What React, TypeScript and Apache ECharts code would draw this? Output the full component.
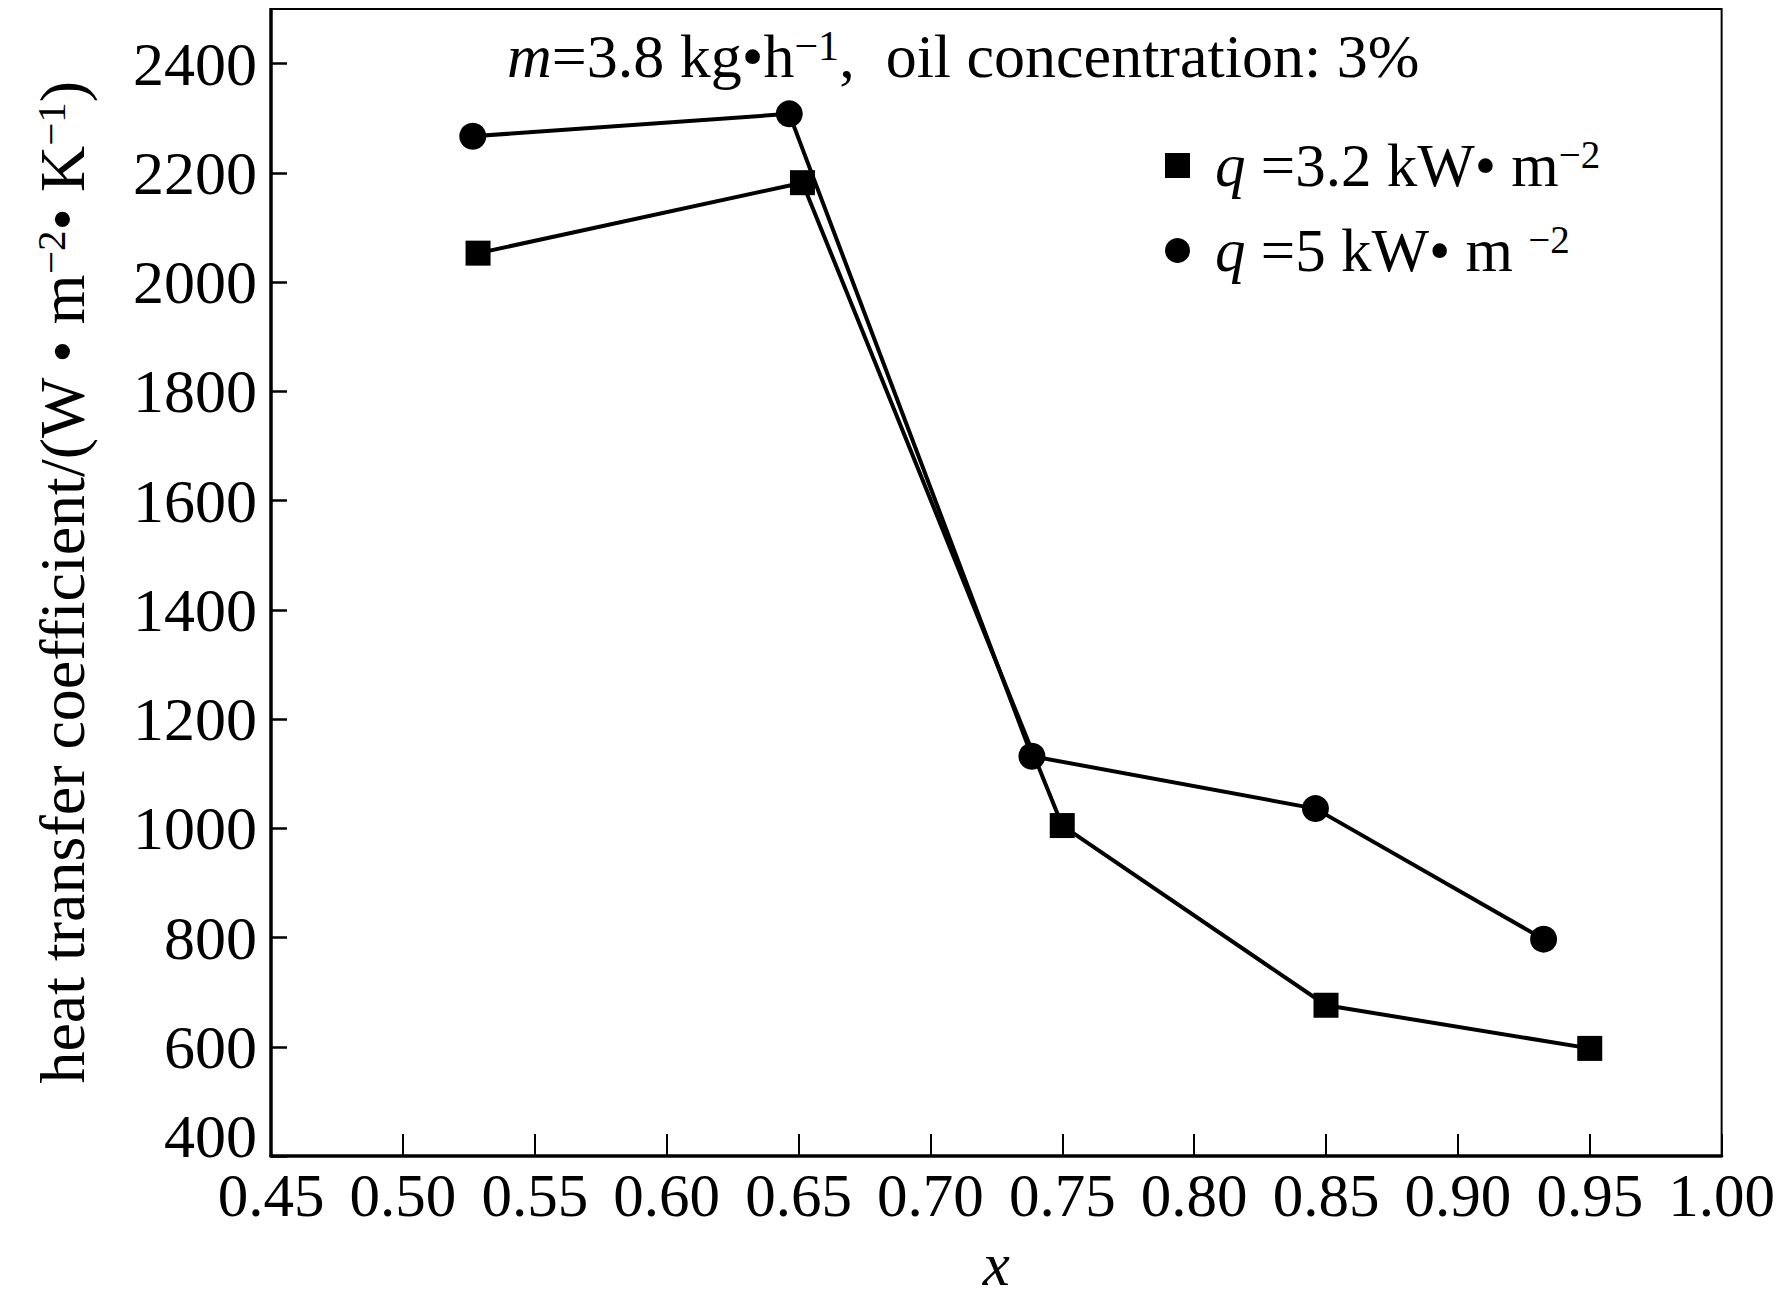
import React, { useEffect, useRef } from "react";
import * as echarts from "echarts";

const FONT = '"Liberation Serif", "Times New Roman", Times, serif';

const seriesNames = ["q =3.2 kW• m−2", "q =5 kW• m −2"];
const legendRich = ["{i|q} =3.2 kW• m{s|−2}", "{i|q} =5 kW• m {s|−2}"];

const squareX = [0.5285, 0.6515, 0.75, 0.85, 0.95];
const squareY = [2053, 2182, 1005, 676, 597];
const circleX = [0.5265, 0.6465, 0.7385, 0.846, 0.9325];
const circleY = [2267, 2308, 1132, 1036, 797];

const xMin = 0.45;
const xMax = 1.0;
const xStep = 0.05;
const yMin = 400;
const yMax = 2500;
const yStep = 200;

const titleText = "{i|m}=3.8 kg•h{s|−1},  oil concentration: 3%";
const yTitle = "heat transfer coefficient/(W • m{s|−2}• K{s|−1})";
const xTitle = "{i|x}";

const richBase = {
  i: { fontStyle: "italic", fontSize: 61, fontFamily: FONT, color: "#000" },
  s: { fontSize: 39, fontFamily: FONT, color: "#000", verticalAlign: "top" },
};

export default function App() {
  const ref = useRef<HTMLDivElement>(null);
  useEffect(() => {
    if (!ref.current) return;
    const chart = echarts.init(ref.current, undefined, { renderer: "svg" });
    const sq = squareX.map((x, i) => [x, squareY[i]]);
    const ci = circleX.map((x, i) => [x, circleY[i]]);
    chart.setOption({
      animation: false,
      backgroundColor: "#fff",
      textStyle: { fontFamily: FONT, color: "#000" },
      grid: {
        left: 263,
        top: 1,
        right: 47,
        bottom: 139,
        show: true,
        borderColor: "#000",
        borderWidth: 2,
        backgroundColor: "transparent",
      },
      xAxis: {
        type: "value",
        min: xMin,
        max: xMax,
        interval: xStep,
        name: xTitle,
        nameLocation: "middle",
        nameGap: 78,
        nameTextStyle: { fontSize: 61, fontFamily: FONT, color: "#000", rich: richBase },
        axisLine: { show: true, lineStyle: { color: "#000", width: 3.5 } },
        axisTick: { show: true, inside: true, length: 22, lineStyle: { color: "#000", width: 2 } },
        axisLabel: {
          fontSize: 61,
          fontFamily: FONT,
          color: "#000",
          margin: 9,
          formatter: (v: number) => v.toFixed(2),
        },
        splitLine: { show: false },
      },
      yAxis: {
        type: "value",
        min: yMin,
        max: yMax,
        interval: yStep,
        name: yTitle,
        nameLocation: "middle",
        nameRotate: 90,
        nameGap: 177,
        nameTextStyle: { fontSize: 64, fontFamily: FONT, color: "#000", rich: {
          s: { fontSize: 41, fontFamily: FONT, color: "#000", verticalAlign: "top" },
        } },
        axisLine: { show: true, lineStyle: { color: "#000", width: 3.5 } },
        axisTick: { show: true, inside: true, length: 16, lineStyle: { color: "#000", width: 2.5 } },
        axisLabel: {
          fontSize: 62,
          fontFamily: FONT,
          color: "#000",
          margin: 14,
          showMaxLabel: false,
          formatter: (v: number) => (v === yMin ? "{b|" + String(v) + "}" : String(v)),
          rich: {
            b: { fontSize: 62, fontFamily: FONT, color: "#000", padding: [0, 0, 40, 0] },
          },
        },
        splitLine: { show: false },
      },
      legend: {
        orient: "vertical",
        left: 1152,
        top: 122,
        itemGap: 24,
        itemWidth: 25,
        itemHeight: 25,
        data: [
          { name: seriesNames[0], icon: "rect" },
          { name: seriesNames[1], icon: "circle" },
        ],
        formatter: (name: string) => legendRich[seriesNames.indexOf(name)],
        textStyle: {
          fontSize: 61,
          fontFamily: FONT,
          color: "#000",
          padding: [0, 0, 0, 20],
          rich: richBase,
        },
      },
      graphic: [
        {
          type: "text",
          left: 499,
          top: 17,
          style: {
            text: titleText,
            fontSize: 62,
            fontFamily: FONT,
            fill: "#000",
            rich: {
              i: { fontStyle: "italic", fontSize: 62, fontFamily: FONT, color: "#000" },
              s: { fontSize: 42, fontFamily: FONT, color: "#000", verticalAlign: "top" },
            },
          },
        },
      ],
      series: [
        {
          name: seriesNames[0],
          type: "line",
          data: sq,
          symbol: "rect",
          symbolSize: 25,
          itemStyle: { color: "#000" },
          lineStyle: { color: "#000", width: 4 },
        },
        {
          name: seriesNames[1],
          type: "line",
          data: ci,
          symbol: "circle",
          symbolSize: 27,
          itemStyle: { color: "#000" },
          lineStyle: { color: "#000", width: 4 },
        },
      ],
    });
    return () => chart.dispose();
  }, []);
  return <div ref={ref} style={{ width: 1770, height: 1292 }} />;
}
